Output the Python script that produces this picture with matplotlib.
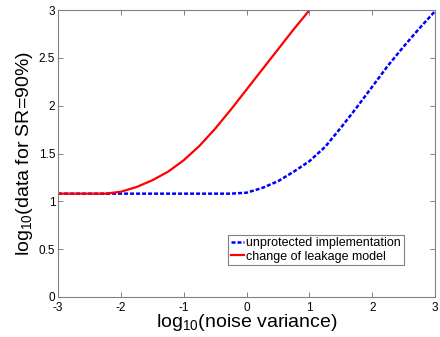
import numpy as np
import matplotlib
matplotlib.use("Agg")
import matplotlib.pyplot as plt

plt.rcParams['font.family'] = ['Liberation Sans', 'DejaVu Sans']
plt.rcParams['mathtext.fontset'] = 'custom'
plt.rcParams['mathtext.rm'] = 'Liberation Sans'
plt.rcParams['mathtext.it'] = 'Liberation Sans'
plt.rcParams['axes.unicode_minus'] = False

# log10(noise variance) and log10(data for SR=90%)
x_unprot = [-3, -2.5, -2, -1.5, -1, -0.5, -0.25, 0, 0.25, 0.5, 0.75, 1.0,
            1.25, 1.5, 1.75, 2.0, 2.25, 2.5, 2.75, 3.0]
y_unprot = [1.08, 1.08, 1.08, 1.08, 1.08, 1.08, 1.08, 1.09, 1.14, 1.21, 1.31, 1.42,
            1.57, 1.77, 1.98, 2.20, 2.42, 2.62, 2.81, 2.99]

x_change = [-3, -2.5, -2.25, -2, -1.75, -1.5, -1.25, -1, -0.75, -0.5, -0.25,
            0, 0.25, 0.5, 0.75, 1.0]
y_change = [1.08, 1.08, 1.08, 1.10, 1.15, 1.22, 1.31, 1.43, 1.58, 1.76, 1.96,
            2.17, 2.38, 2.59, 2.80, 3.0]

labels = ["unprotected implementation", "change of leakage model"]

fig = plt.figure(figsize=(4.4, 3.37), dpi=100)
ax = fig.add_axes([0.132, 0.119, 0.857, 0.851])

ax.plot(x_unprot, y_unprot, color=(0, 0, 1), lw=1.8, linestyle=(0, (1.6, 0.8)),
        label=labels[0])
ax.plot(x_change, y_change, color=(1, 0, 0), lw=1.6, label=labels[1])

ax.set_xlim(-3, 3)
ax.set_ylim(0, 3)
ax.set_xticks([-3, -2, -1, 0, 1, 2, 3])
ax.set_yticks([0, 0.5, 1, 1.5, 2, 2.5, 3])
ax.set_yticklabels(["0", "0.5", "1", "1.5", "2", "2.5", "3"])

for s in ax.spines.values():
    s.set_color("#808080")
    s.set_linewidth(0.8)
ax.tick_params(direction="in", top=True, right=True, length=3.5, width=0.7,
               color="#808080", labelsize=8.5, pad=2)
ax.tick_params(axis="x", pad=3.5)

ax.set_xlabel(r"log$_{10}$(noise variance)", fontsize=14, labelpad=-1)
ax.set_ylabel(r"log$_{10}$(data for SR=90%)", fontsize=14, labelpad=3)

leg = ax.legend(loc="lower left", bbox_to_anchor=(0.451, 0.111, 0.467, 0.118),
                mode="expand", fontsize=9, handlelength=1.1, handletextpad=0.15,
                borderaxespad=0, borderpad=0.2, labelspacing=0.1,
                fancybox=False, framealpha=1)
leg.get_frame().set_edgecolor("#808080")
leg.get_frame().set_linewidth(0.8)

fig.savefig("out.png", dpi=100)
